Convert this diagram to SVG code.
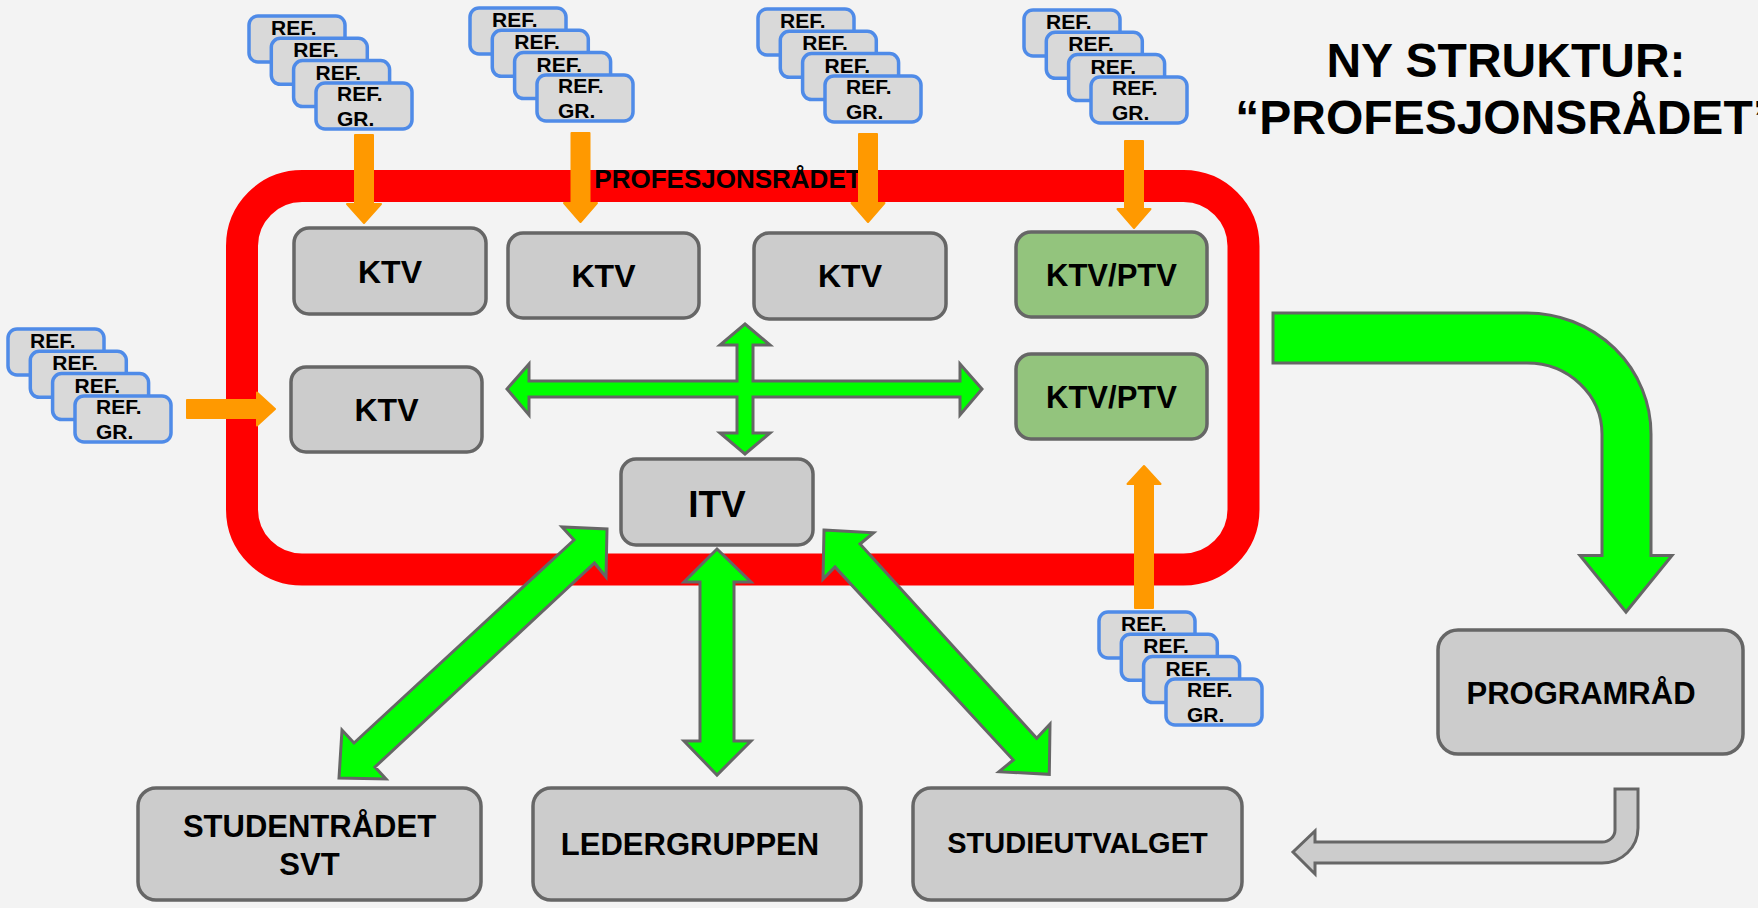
<svg xmlns="http://www.w3.org/2000/svg" width="1758" height="908" viewBox="0 0 1758 908">
<defs>
<style>
text{font-family:"Liberation Sans",Arial,sans-serif;font-weight:bold;fill:#000}
.ref rect{fill:#d9d9d9;stroke:#4f8be8;stroke-width:3.5}
.ref text{font-size:21px}
.node rect{fill:#cccccc;stroke:#666666;stroke-width:3.5}
.node.g rect{fill:#93c47d}
.node text{text-anchor:middle}
.or{fill:#ff9900;stroke:#ff9900;stroke-width:2;stroke-linejoin:round}
.gr{fill:#00ff00;stroke:#666666;stroke-width:3;stroke-linejoin:miter}
.gy{fill:#cccccc;stroke:#666666;stroke-width:3}
</style>
</defs>
<rect x="0" y="0" width="1758" height="908" fill="#f3f3f3"/>

<g id="profesjonsradet">
<rect x="242" y="186" width="1001.5" height="383.5" rx="60" ry="60" fill="none" stroke="#ff0000" stroke-width="32"/>
<text x="728" y="188" font-size="26" text-anchor="middle">PROFESJONSRÅDET</text>
</g>

<g id="title">
<text x="1506" y="77" font-size="48" text-anchor="middle">NY STRUKTUR:</text>
<text x="1506" y="134" font-size="48" text-anchor="middle">“PROFESJONSRÅDET”</text>
</g>

<g id="ref1" class="ref" transform="translate(249,16)">
<rect x="0" y="0" width="96" height="46" rx="9"/><text x="22" y="19">REF.</text>
<rect x="22.3" y="22.3" width="96" height="46" rx="9"/><text x="44.3" y="41.3">REF.</text>
<rect x="44.6" y="44.6" width="96" height="46" rx="9"/><text x="66.6" y="63.6">REF.</text>
<rect x="67" y="67" width="96" height="46" rx="9"/><text x="88" y="85">REF.</text><text x="88" y="110">GR.</text>
</g>
<g id="ref2" class="ref" transform="translate(470,8)">
<rect x="0" y="0" width="96" height="46" rx="9"/><text x="22" y="19">REF.</text>
<rect x="22.3" y="22.3" width="96" height="46" rx="9"/><text x="44.3" y="41.3">REF.</text>
<rect x="44.6" y="44.6" width="96" height="46" rx="9"/><text x="66.6" y="63.6">REF.</text>
<rect x="67" y="67" width="96" height="46" rx="9"/><text x="88" y="85">REF.</text><text x="88" y="110">GR.</text>
</g>
<g id="ref3" class="ref" transform="translate(758,9)">
<rect x="0" y="0" width="96" height="46" rx="9"/><text x="22" y="19">REF.</text>
<rect x="22.3" y="22.3" width="96" height="46" rx="9"/><text x="44.3" y="41.3">REF.</text>
<rect x="44.6" y="44.6" width="96" height="46" rx="9"/><text x="66.6" y="63.6">REF.</text>
<rect x="67" y="67" width="96" height="46" rx="9"/><text x="88" y="85">REF.</text><text x="88" y="110">GR.</text>
</g>
<g id="ref4" class="ref" transform="translate(1024,10)">
<rect x="0" y="0" width="96" height="46" rx="9"/><text x="22" y="19">REF.</text>
<rect x="22.3" y="22.3" width="96" height="46" rx="9"/><text x="44.3" y="41.3">REF.</text>
<rect x="44.6" y="44.6" width="96" height="46" rx="9"/><text x="66.6" y="63.6">REF.</text>
<rect x="67" y="67" width="96" height="46" rx="9"/><text x="88" y="85">REF.</text><text x="88" y="110">GR.</text>
</g>
<g id="ref5" class="ref" transform="translate(8,329)">
<rect x="0" y="0" width="96" height="46" rx="9"/><text x="22" y="19">REF.</text>
<rect x="22.3" y="22.3" width="96" height="46" rx="9"/><text x="44.3" y="41.3">REF.</text>
<rect x="44.6" y="44.6" width="96" height="46" rx="9"/><text x="66.6" y="63.6">REF.</text>
<rect x="67" y="67" width="96" height="46" rx="9"/><text x="88" y="85">REF.</text><text x="88" y="110">GR.</text>
</g>
<g id="ref6" class="ref" transform="translate(1099,612)">
<rect x="0" y="0" width="96" height="46" rx="9"/><text x="22" y="19">REF.</text>
<rect x="22.3" y="22.3" width="96" height="46" rx="9"/><text x="44.3" y="41.3">REF.</text>
<rect x="44.6" y="44.6" width="96" height="46" rx="9"/><text x="66.6" y="63.6">REF.</text>
<rect x="67" y="67" width="96" height="46" rx="9"/><text x="88" y="85">REF.</text><text x="88" y="110">GR.</text>
</g>

<g id="connectors">
<polygon class="or" points="355,135 373,135 373,204 381,204 364,223 347,204 355,204"/>
<polygon class="or" points="571.5,133 589.5,133 589.5,203 597,203 580.5,222 564,203 571.5,203"/>
<polygon class="or" points="859,134 877,134 877,203 884.5,203 868,222 851.5,203 859,203"/>
<polygon class="or" points="1125,141 1143,141 1143,209 1150.5,209 1134,228 1117.5,209 1125,209"/>
<polygon class="or" points="187,400 257,400 257,392.5 275,409 257,425.5 257,418 187,418"/>
<polygon class="or" points="1135,608 1135,484 1127.5,484 1144,466 1160.5,484 1153,484 1153,608"/>

<polygon class="gr" points="745,324 770,345 753,345 753,381 960,381 960,364 982,389 960,415 960,397 753,397 753,433 770,433 745,454 720,433 737,433 737,397 529,397 529,415 507,389 529,364 529,381 737,381 737,345 720,345"/>
<polygon class="gr" points="717,549 751,582 734,582 734,741 751,741 717,775 684,741 700,741 700,582 684,582"/>
<polygon class="gr" points="607,529 606,577 594.5,563 375,767 386,779 339,778 342,730 354,743 574,540 562,527"/>
<polygon class="gr" points="824,530 873.6,532.7 860,544 1036.7,738.3 1050,724 1049.3,774.3 999,771.7 1013.3,760 835,567 823,579"/>
<path class="gr" d="M1273,313 H1527 A124,121 0 0 1 1651,434 V555.5 H1672 L1626,612 L1580,555.5 H1602 V434 A75,71 0 0 0 1527,363 H1273 Z"/>
<path class="gy" d="M1615,789 H1638 V828 A36,35 0 0 1 1602,863 H1315 V874 L1293,852 L1315,831 V842 H1602 A13,12 0 0 0 1615,830 Z"/>
</g>

<g id="ktv1" class="node"><rect x="294" y="228" width="192" height="86" rx="15"/><text x="390" y="283" font-size="32">KTV</text></g>
<g id="ktv2" class="node"><rect x="508" y="233" width="191" height="85" rx="15"/><text x="603.5" y="287" font-size="32">KTV</text></g>
<g id="ktv3" class="node"><rect x="754" y="233" width="192" height="86" rx="15"/><text x="850" y="287" font-size="32">KTV</text></g>
<g id="ktvptv1" class="node g"><rect x="1016" y="232" width="191" height="85" rx="15"/><text x="1111.5" y="286" font-size="31">KTV/PTV</text></g>
<g id="ktvptv2" class="node g"><rect x="1016" y="354" width="191" height="85" rx="15"/><text x="1111.5" y="408" font-size="31">KTV/PTV</text></g>
<g id="ktv4" class="node"><rect x="291" y="367" width="191" height="85" rx="15"/><text x="386.5" y="421" font-size="32">KTV</text></g>
<g id="itv" class="node"><rect x="621" y="459" width="192" height="86" rx="15"/><text x="717" y="517" font-size="37">ITV</text></g>

<g id="studentradet" class="node"><rect x="138" y="788" width="343" height="112" rx="18"/><text x="309.5" y="837" font-size="31">STUDENTRÅDET</text><text x="309.5" y="875" font-size="31">SVT</text></g>
<g id="ledergruppen" class="node"><rect x="533" y="788" width="328" height="112" rx="18"/><text x="690" y="855" font-size="31">LEDERGRUPPEN</text></g>
<g id="studieutvalget" class="node"><rect x="913" y="788" width="329" height="112" rx="18"/><text x="1077.5" y="853" font-size="29">STUDIEUTVALGET</text></g>
<g id="programrad" class="node"><rect x="1438" y="630" width="305" height="124" rx="20"/><text x="1581" y="704" font-size="31">PROGRAMRÅD</text></g>
</svg>
